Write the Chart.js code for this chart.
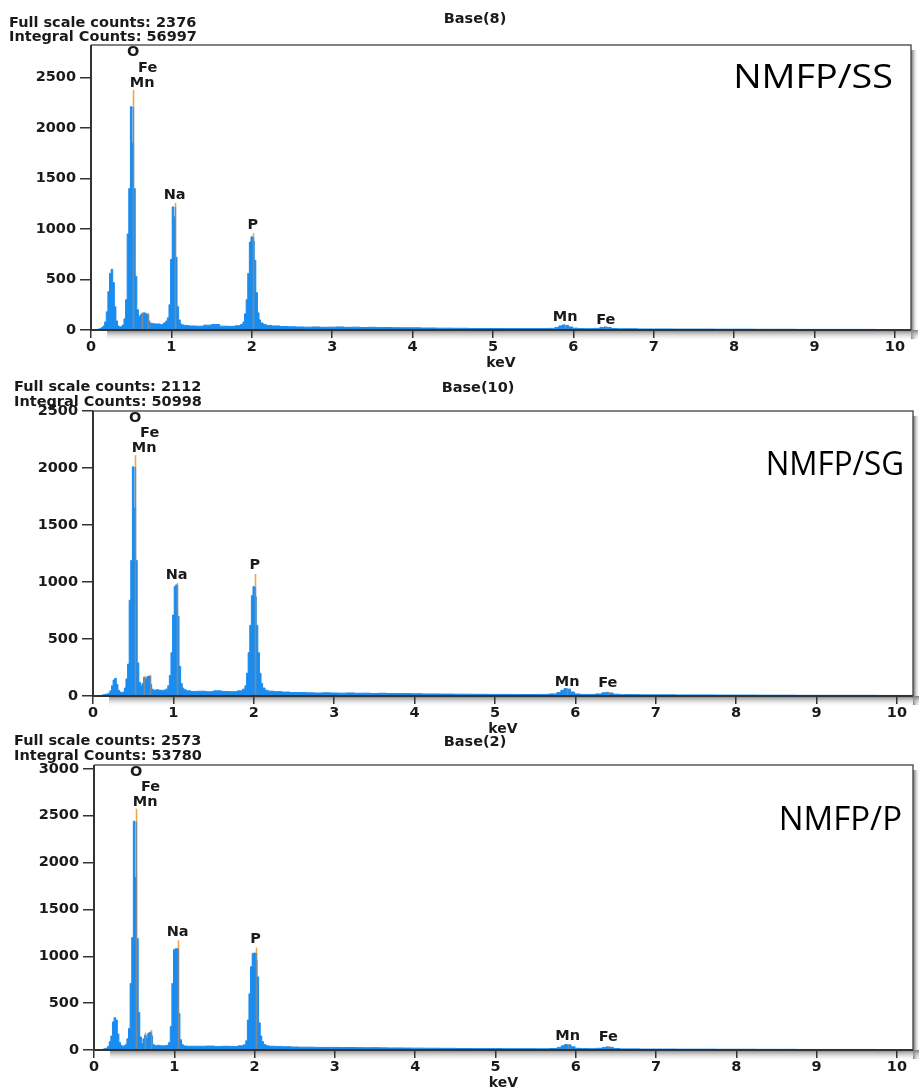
<!DOCTYPE html>
<html>
<head>
<meta charset="utf-8">
<script src="https://cdn.jsdelivr.net/npm/chart.js@4/dist/chart.umd.min.js"></script>
<style>
  html, body { margin: 0; padding: 0; background: #fff; overflow: hidden; }
  body { width: 919px; height: 1088px; position: relative; }
  canvas { position: absolute; left: 0; }
</style>
</head>
<body>
<canvas id="ss" width="919" height="370" style="top:0"></canvas>
<canvas id="sg" width="919" height="366" style="top:370px"></canvas>
<canvas id="p" width="919" height="365" style="top:725px"></canvas>
<script>
// energy channels (keV), shared by the three spectra
const energyKeV = [
  0, 0.08, 0.10, 0.12, 0.14, 0.16, 0.18, 0.20, 0.22, 0.24, 0.26, 0.28, 0.30, 0.32, 0.34, 0.36, 0.38, 0.40,
  0.42, 0.44, 0.46, 0.48, 0.50, 0.52, 0.54, 0.56, 0.58, 0.60, 0.62, 0.64, 0.66, 0.68, 0.70, 0.72, 0.74, 0.76,
  0.80, 0.84, 0.88, 0.92, 0.94, 0.96, 0.98, 1.00, 1.02, 1.04, 1.06, 1.08, 1.10, 1.12, 1.14, 1.18,
  1.25, 1.35, 1.45, 1.55, 1.65, 1.75, 1.84, 1.88,
  1.90, 1.92, 1.94, 1.96, 1.98, 2.00, 2.02, 2.04, 2.06, 2.08, 2.10, 2.12, 2.16, 2.20,
  2.3, 2.4, 2.5, 2.6, 2.7, 2.8, 2.9, 3.0, 3.1, 3.2, 3.3, 3.4, 3.5, 3.6, 3.7, 3.8, 3.9, 4.0, 4.2, 4.4, 4.6, 4.8, 5.0, 5.2, 5.4, 5.6,
  5.74, 5.80, 5.84, 5.88, 5.92, 5.96, 6.02, 6.10, 6.20, 6.30, 6.36, 6.40, 6.44, 6.50, 6.60,
  7.0, 7.5, 8.0, 8.5, 9.0, 9.5, 10.0, 10.2
]

const countsSS = [
  0, 0, 10, 15, 25, 40, 80, 180, 380, 560, 600, 470, 230, 90, 40, 30, 35, 50,
  110, 300, 950, 1400, 2210, 1850, 1400, 530, 200, 130, 150, 165, 170, 165, 155, 90, 70, 65,
  60, 60, 55, 70, 90, 120, 250, 700, 1218, 1120, 720, 230, 100, 60, 50, 45,
  40, 38, 48, 55, 38, 36, 42, 55,
  80, 160, 300, 560, 870, 922, 880, 690, 370, 170, 100, 70, 55, 45,
  40, 35, 32, 30, 28, 30, 27, 28, 30, 26, 28, 25, 27, 24, 25, 23, 22, 22, 20, 18, 17, 15, 15, 14, 14, 14,
  16, 25, 40, 50, 45, 30, 18, 14, 13, 16, 25, 30, 25, 15, 12,
  10, 9, 8, 7, 6, 6, 5, 5
]

const countsSG = [
  0, 0, 5, 8, 12, 15, 18, 25, 45, 90, 140, 155, 100, 50, 35, 30, 35, 70,
  150, 280, 840, 1190, 2010, 1650, 1190, 290, 120, 90, 110, 165, 150, 170, 175, 100, 60, 50,
  55, 50, 50, 60, 90, 180, 380, 710, 960, 975, 700, 260, 110, 70, 55, 45,
  40, 42, 38, 45, 40, 38, 45, 60,
  90, 200, 380, 620, 880, 960, 870, 620, 380, 200, 110, 70, 50, 42,
  38, 34, 30, 30, 28, 26, 28, 26, 25, 27, 24, 25, 22, 24, 22, 21, 22, 20, 18, 17, 16, 15, 14, 14, 13, 14,
  18, 30, 50, 65, 60, 35, 18, 14, 14, 18, 28, 32, 26, 16, 12,
  10, 9, 8, 7, 6, 6, 5, 5
]

const countsP = [
  0, 0, 5, 10, 15, 20, 40, 90, 150, 300, 345, 320, 170, 80, 50, 40, 45, 60,
  120, 230, 710, 1200, 2440, 1840, 1190, 400, 140, 70, 120, 160, 130, 180, 190, 150, 60, 45,
  50, 45, 45, 50, 80, 250, 710, 1070, 1080, 1082, 390, 110, 60, 45, 42, 40,
  40, 40, 42, 38, 40, 38, 45, 55,
  100, 320, 600, 890, 1030, 1035, 960, 780, 290, 150, 90, 60, 45, 40,
  38, 35, 32, 30, 30, 28, 27, 28, 26, 27, 25, 24, 25, 23, 22, 22, 21, 20, 19, 18, 16, 15, 15, 14, 14, 13,
  16, 28, 45, 58, 55, 35, 18, 15, 14, 18, 28, 34, 28, 16, 12,
  10, 9, 8, 7, 6, 6, 5, 5
]

// element lines: O K, Mn L, Fe L, Na K, P K, Mn K, Fe K
const lineNames = ['O', 'Mn', 'Fe', 'Na', 'P', 'Mn', 'Fe']
const lineKeV = [0.525, 0.637, 0.705, 1.041, 2.013, 5.899, 6.404]

const lineMidSS = [2210, 165, 155, 1218, 922, 45, 28]
const lineTopSS = [2376, 172, 170, 1258, 958, 52, 32]
const labelAtSS = [2747, 2443, 2595, 1334, 1037, 131, 99]

const lineMidSG = [2010, 165, 175, 975, 960, 60, 30]
const lineTopSG = [2112, 175, 185, 991, 1070, 66, 34]
const labelAtSG = [2438, 2169, 2306, 1061, 1143, 123, 114]

const lineMidP = [2440, 160, 190, 1082, 1035, 55, 32]
const lineTopP = [2573, 185, 215, 1170, 1093, 62, 36]
const labelAtP = [2961, 2642, 2802, 1252, 1181, 142, 135]

const keVTicks = [0, 1, 2, 3, 4, 5, 6, 7, 8, 9, 10]
const countTicksSS = [0, 500, 1000, 1500, 2000, 2500]
const countTicksSG = [0, 500, 1000, 1500, 2000, 2500]
const countTicksP = [0, 500, 1000, 1500, 2000, 2500, 3000]

const sampleNames = ['NMFP/SS', 'NMFP/SG', 'NMFP/P']
const fullScale = [2376, 2112, 2573]
const integralCounts = [56997, 50998, 53780]
const baseNames = ['Base(8)', 'Base(10)', 'Base(2)']
const yMaxCounts = [2820, 2500, 3040]

const BOLD = 'bold 14.5px "DejaVu Sans"'
const INK = '#1a1a1a'

const edsDecor = {
  id: 'edsDecor',
  beforeDraw (chart) {
    const { ctx, chartArea: a } = chart
    ctx.save()
    let g = ctx.createLinearGradient(a.right, 0, a.right + 7, 0)
    g.addColorStop(0, '#5e5e5e')
    g.addColorStop(1, 'rgba(255,255,255,0)')
    ctx.fillStyle = g
    ctx.fillRect(a.right, a.top + 5, 7, a.bottom - a.top + 4)
    g = ctx.createLinearGradient(0, a.bottom, 0, a.bottom + 11)
    g.addColorStop(0, '#7d7d7d')
    g.addColorStop(1, 'rgba(255,255,255,0)')
    ctx.fillStyle = g
    ctx.fillRect(a.left + 16, a.bottom, a.right - a.left - 9, 11)
    ctx.restore()
  },
  afterDatasetsDraw (chart, args, o) {
    const { ctx, chartArea: a, scales: { x, y } } = chart
    ctx.save()
    // element marker lines
    ctx.lineWidth = 1.6
    for (let i = 0; i < lineKeV.length; i++) {
      const px = Math.round(x.getPixelForValue(lineKeV[i])) + 0.5
      ctx.strokeStyle = '#7b8a98'
      ctx.beginPath()
      ctx.moveTo(px, y.getPixelForValue(0))
      ctx.lineTo(px, y.getPixelForValue(o.mid[i]))
      ctx.stroke()
      ctx.strokeStyle = '#f2a548'
      ctx.beginPath()
      ctx.moveTo(px, y.getPixelForValue(o.mid[i]))
      ctx.lineTo(px, y.getPixelForValue(o.top[i]))
      ctx.stroke()
    }
    // element labels
    ctx.font = BOLD
    ctx.fillStyle = INK
    ctx.textAlign = 'center'
    ctx.textBaseline = 'middle'
    for (let i = 0; i < lineNames.length; i++) {
      ctx.fillText(lineNames[i], x.getPixelForValue(lineKeV[i]), y.getPixelForValue(o.labels[i]))
    }
    // frame
    ctx.strokeStyle = '#5a5a5a'
    ctx.lineWidth = 1.5
    ctx.beginPath()
    ctx.moveTo(a.left, a.top)
    ctx.lineTo(a.right, a.top)
    ctx.lineTo(a.right, a.bottom)
    ctx.stroke()
    ctx.strokeStyle = '#333'
    ctx.lineWidth = 2
    ctx.beginPath()
    ctx.moveTo(a.left, a.top)
    ctx.lineTo(a.left, a.bottom)
    ctx.lineTo(a.right, a.bottom)
    ctx.stroke()
    // sample name
    ctx.save()
    ctx.font = '32px "Open Sans"'
    ctx.fillStyle = '#000'
    ctx.textAlign = 'right'
    ctx.textBaseline = 'alphabetic'
    ctx.translate(o.nameRight, o.nameBase)
    ctx.scale(o.nameScale, 1)
    ctx.fillText(o.name, 0, 0)
    ctx.restore()
    // header
    ctx.font = BOLD
    ctx.fillStyle = INK
    ctx.textAlign = 'left'
    ctx.textBaseline = 'alphabetic'
    ctx.fillText('Full scale counts: ' + o.full, o.headX, o.head1)
    ctx.fillText('Integral Counts: ' + o.integral, o.headX, o.head2)
    ctx.textAlign = 'center'
    ctx.fillText(o.base, o.baseX, o.baseY)
    ctx.restore()
  }
}

const panels = [
  { id: 'ss', counts: countsSS, mid: lineMidSS, top: lineTopSS, labels: labelAtSS, yTicks: countTicksSS,
    padTop: 45, padRight: 8, axisW: 91,
    headX: 9, head1: 27, head2: 41, baseX: 475, baseY: 23, nameRight: 893, nameBase: 88, nameScale: 1.18 },
  { id: 'sg', counts: countsSG, mid: lineMidSG, top: lineTopSG, labels: labelAtSG, yTicks: countTicksSG,
    padTop: 41, padRight: 6, axisW: 93,
    headX: 14, head1: 21, head2: 36, baseX: 478, baseY: 22, nameRight: 904, nameBase: 105, nameScale: 0.98 },
  { id: 'p', counts: countsP, mid: lineMidP, top: lineTopP, labels: labelAtP, yTicks: countTicksP,
    padTop: 40, padRight: 6, axisW: 94,
    headX: 14, head1: 20, head2: 35, baseX: 475, baseY: 21, nameRight: 902, nameBase: 105, nameScale: 1.03 }
]

panels.forEach((p, k) => {
  const points = energyKeV.map((e, i) => ({ x: e, y: p.counts[i] }))
  const tickFont = { family: 'DejaVu Sans', size: 14.5, weight: 'bold' }
  new Chart(document.getElementById(p.id), {
    type: 'line',
    data: {
      datasets: [{
        data: points,
        stepped: 'middle',
        fill: 'origin',
        backgroundColor: '#1a8cf0',
        borderColor: '#1a8cf0',
        borderWidth: 1,
        pointRadius: 0
      }]
    },
    options: {
      responsive: false,
      animation: false,
      events: [],
      layout: { padding: { top: p.padTop, right: p.padRight, left: 0, bottom: 0 } },
      plugins: {
        legend: { display: false },
        tooltip: { enabled: false },
        edsDecor: {
          mid: p.mid, top: p.top, labels: p.labels,
          name: sampleNames[k], full: fullScale[k], integral: integralCounts[k], base: baseNames[k],
          headX: p.headX, head1: p.head1, head2: p.head2, baseX: p.baseX, baseY: p.baseY,
          nameRight: p.nameRight, nameBase: p.nameBase, nameScale: p.nameScale
        }
      },
      scales: {
        x: {
          type: 'linear',
          min: 0,
          max: 10.2,
          afterFit (s) { s.height = 40 },
          afterBuildTicks (s) { s.ticks = keVTicks.map(v => ({ value: v })) },
          ticks: { autoSkip: false, maxRotation: 0, padding: 1, color: INK, font: tickFont, callback: v => String(v) },
          grid: { drawOnChartArea: false, drawTicks: true, tickLength: 8, color: '#333', lineWidth: 1.5 },
          border: { display: false },
          title: { display: true, text: 'keV', color: INK, font: { family: 'DejaVu Sans', size: 14, weight: 'bold', lineHeight: 1 }, padding: 0 }
        },
        y: {
          min: 0,
          max: yMaxCounts[k],
          afterFit (s) { s.width = p.axisW },
          afterBuildTicks (s) { s.ticks = p.yTicks.map(v => ({ value: v })) },
          ticks: { padding: 4, color: INK, font: tickFont, callback: v => String(v) },
          grid: { drawOnChartArea: false, drawTicks: true, tickLength: 11, color: '#333', lineWidth: 1.5 },
          border: { display: false }
        }
      }
    },
    plugins: [edsDecor]
  })
})
</script>
</body>
</html>
